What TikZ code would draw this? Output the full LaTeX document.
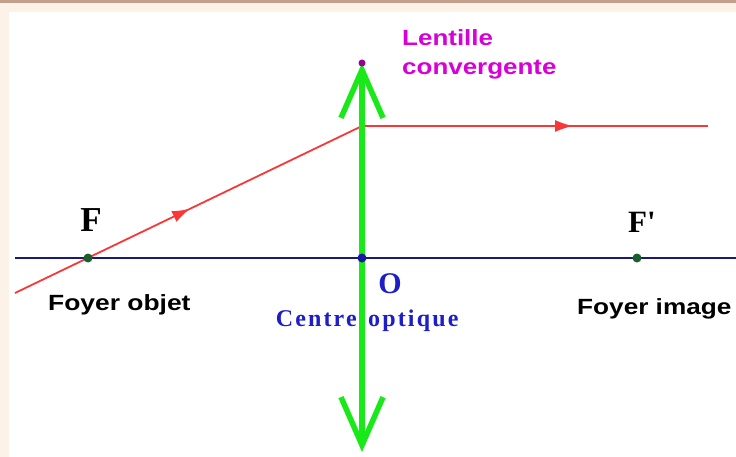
\documentclass[tikz,border=0pt]{standalone}
\usepackage{fontspec}
\setmainfont{Liberation Serif}
\newfontfamily\labsans{Liberation Sans}
\usetikzlibrary{arrows.meta,decorations.markings}
\definecolor{lensgreen}{RGB}{25,232,25}
\definecolor{axisblue}{RGB}{25,25,125}
\definecolor{raired}{RGB}{250,55,55}
\definecolor{dotgreen}{RGB}{25,95,45}
\definecolor{labmag}{RGB}{215,0,215}
\definecolor{labblue}{RGB}{30,30,200}
\definecolor{frameb}{RGB}{196,160,140}
\definecolor{framel}{RGB}{253,242,232}
\tikzset{
  axis/.style={draw=axisblue,line width=1.6pt},
  ray/.style={draw=raired,line width=1.8pt},
  lens/.style={draw=lensgreen,line width=5.5pt,
    {Straight Barb[length=48pt,width=42pt,line width=5.5pt]}-{Straight Barb[length=48pt,width=42pt,line width=5.5pt]}},
  fdot/.style={circle,fill=dotgreen,inner sep=0pt,minimum size=9pt},
  sanslab/.style={inner sep=0pt,font=\labsans\bfseries\fontsize{22}{24}\selectfont},
  seriflab/.style={inner sep=0pt,font=\bfseries},
  centrelab/.style={inner sep=0pt,text=labblue,font=\bfseries\fontsize{24}{26}\selectfont\addfontfeature{LetterSpace=9}},
  rarrow/.style={postaction={decorate},decoration={markings,
    mark=at position #1 with {\arrow{Latex[length=18pt,width=12pt]}}}}
}
\begin{document}
\begin{tikzpicture}[x=1pt,y=-1pt]
\useasboundingbox (0,0) rectangle (736,457);
\fill[framel] (0,0) rectangle (736,457);
\fill[frameb] (0,0) rectangle (736,3.5);
\fill[white] (9,12) rectangle (736,457);
% labels
\node[sanslab,anchor=base west,text=labmag] (lent) at (402,46) {\scalebox{1.18}[1]{Lentille}};
\node[sanslab,anchor=base west,text=labmag] (conv) at (402,75) {\scalebox{1.18}[1]{convergente}};
\node[sanslab,anchor=base west] (fo) at (48,310) {\scalebox{1.2}[1]{Foyer objet}};
\node[sanslab,anchor=base west] (fi) at (577,314) {\scalebox{1.19}[1]{Foyer image}};
\node[seriflab,anchor=base,font=\bfseries\fontsize{35}{38}\selectfont] (Flab) at (91,232) {F};
\node[seriflab,anchor=base west,font=\bfseries\fontsize{31}{34}\selectfont] (Fplab) at (628,233) {F\textquotesingle};
\node[seriflab,anchor=base,text=labblue,font=\bfseries\fontsize{30}{32}\selectfont] (Olab) at (390,293) {O};
\node[centrelab,anchor=base east] (co1) at (357,326) {Centre};
\node[centrelab,anchor=base west] (co2) at (368,326) {optique};
% axis
\coordinate (A0) at (15,258);
\coordinate (A1) at (736,258);
\draw[axis] (A0) -- (A1);
% ray
\coordinate (S) at (15,293);
\coordinate (L) at (362,126);
\coordinate (E) at (708,126);
\draw[ray,rarrow=0.505] (S) -- (L);
\draw[ray,rarrow=0.61] (L) -- (E);
% lens
\coordinate (Ltop) at (362,63);
\coordinate (Lbot) at (362,452);
\draw[lens] (Lbot) -- (Ltop);
% points
\node[fdot] (F) at (88,258) {};
\node[fdot] (Fp) at (637,258) {};
\node[circle,fill=labblue!80!black,inner sep=0pt,minimum size=9pt] (O) at (362,258) {};
\node[circle,fill=labmag!70!black,inner sep=0pt,minimum size=7pt] (top) at (Ltop) {};
\end{tikzpicture}
\end{document}
